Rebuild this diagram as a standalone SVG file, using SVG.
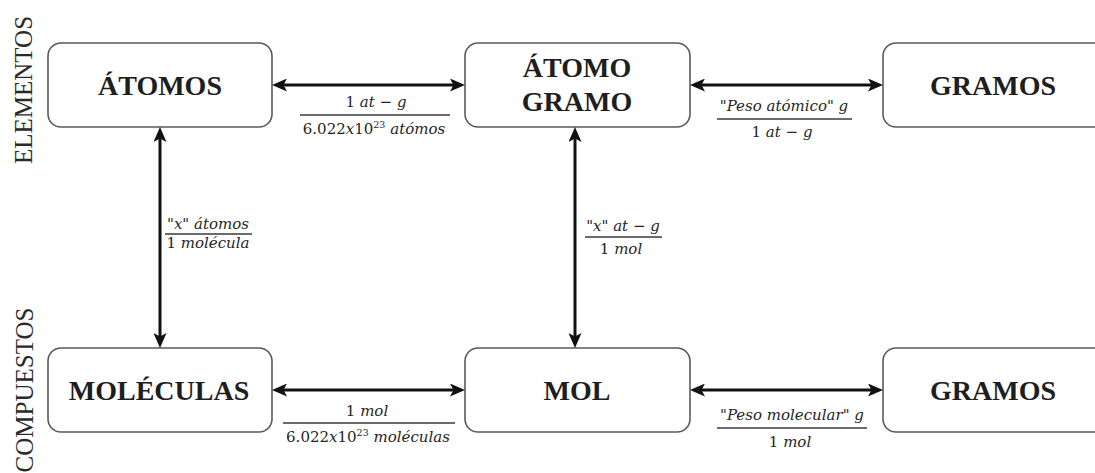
<svg xmlns="http://www.w3.org/2000/svg" width="1095" height="473" viewBox="0 0 1095 473">
  <style>
    .box { fill: #ffffff; stroke: #5a5a5a; stroke-width: 1.6; }
    .title { font-family: "Liberation Serif", "Times New Roman", serif; font-weight: bold; font-size: 28px; fill: #1e1e1e; text-anchor: middle; }
    .side { font-family: "Liberation Serif", "Times New Roman", serif; font-size: 25px; fill: #2a2a2a; text-anchor: middle; }
    .arrow { stroke: #111111; stroke-width: 3; fill: none; marker-start: url(#head); marker-end: url(#head); }
    .frac { font-family: "DejaVu Serif", "Liberation Serif", serif; font-size: 15px; fill: #262626; text-anchor: middle; }
    .it { font-style: italic; }
    .bar { stroke: #3a3a3a; stroke-width: 1.4; }
  </style>
  <defs>
    <marker id="head" viewBox="0 0 15 13" markerWidth="15" markerHeight="13" refX="6" refY="6.5" orient="auto-start-reverse" markerUnits="userSpaceOnUse">
      <path d="M0,0 L15,6.5 L0,13 L3.5,6.5 z" fill="#111111"/>
    </marker>
  </defs>

  <!-- row labels -->
  <text class="side" transform="translate(32,90) rotate(-90)">ELEMENTOS</text>
  <text class="side" transform="translate(33,390) rotate(-90)">COMPUESTOS</text>

  <!-- elements row -->
  <g id="atomos">
    <rect class="box" x="48" y="43" width="224" height="84" rx="13"/>
    <text class="title" x="160" y="95">ÁTOMOS</text>
  </g>
  <g id="atomo-gramo">
    <rect class="box" x="465" y="43" width="225" height="84" rx="13"/>
    <text class="title" x="577" y="77">ÁTOMO</text>
    <text class="title" x="577" y="111">GRAMO</text>
  </g>
  <g id="gramos-elementos">
    <rect class="box" x="883" y="43" width="226" height="84" rx="13"/>
    <text class="title" x="993" y="95">GRAMOS</text>
  </g>

  <!-- compounds row -->
  <g id="moleculas">
    <rect class="box" x="48" y="348" width="224" height="84" rx="13"/>
    <text class="title" x="159" y="400">MOLÉCULAS</text>
  </g>
  <g id="mol">
    <rect class="box" x="465" y="348" width="225" height="84" rx="13"/>
    <text class="title" x="577" y="400">MOL</text>
  </g>
  <g id="gramos-compuestos">
    <rect class="box" x="883" y="348" width="226" height="84" rx="13"/>
    <text class="title" x="993" y="400">GRAMOS</text>
  </g>

  <!-- connectors with conversion factors -->
  <g id="connectors">
    <line class="arrow" x1="281" y1="85" x2="456" y2="85"/>
    <line class="arrow" x1="699" y1="85" x2="874" y2="85"/>
    <line class="arrow" x1="281" y1="390" x2="456" y2="390"/>
    <line class="arrow" x1="699" y1="390" x2="874" y2="390"/>
    <line class="arrow" x1="160" y1="136" x2="160" y2="339"/>
    <line class="arrow" x1="575" y1="136" x2="575" y2="339"/>

    <!-- atoms to gram-atom -->
    <text class="frac" x="376" y="107">1 <tspan class="it">at</tspan> − <tspan class="it">g</tspan></text>
    <line class="bar" x1="300" y1="115" x2="450" y2="115"/>
    <text class="frac" x="374" y="134">6.022<tspan class="it">x</tspan>10<tspan font-size="9.5" dy="-6">23</tspan><tspan dy="6"> </tspan><tspan class="it">atómos</tspan></text>

    <!-- gram-atom to grams -->
    <text class="frac" x="784" y="111">"<tspan class="it">Peso atómico</tspan>" <tspan class="it">g</tspan></text>
    <line class="bar" x1="717" y1="119" x2="852" y2="119"/>
    <text class="frac" x="782" y="137">1 <tspan class="it">at</tspan> − <tspan class="it">g</tspan></text>

    <!-- atoms to molecules -->
    <text class="frac" x="208" y="229">"<tspan class="it">x</tspan>" <tspan class="it">átomos</tspan></text>
    <line class="bar" x1="165" y1="234" x2="252" y2="234"/>
    <text class="frac" x="208" y="248">1 <tspan class="it">molécula</tspan></text>

    <!-- gram-atom to mol -->
    <text class="frac" x="623" y="231">"<tspan class="it">x</tspan>" <tspan class="it">at</tspan> − <tspan class="it">g</tspan></text>
    <line class="bar" x1="585" y1="237" x2="662" y2="237"/>
    <text class="frac" x="621" y="254">1 <tspan class="it">mol</tspan></text>

    <!-- molecules to mol -->
    <text class="frac" x="367" y="416">1 <tspan class="it">mol</tspan></text>
    <line class="bar" x1="283" y1="423" x2="455" y2="423"/>
    <text class="frac" x="368" y="442">6.022<tspan class="it">x</tspan>10<tspan font-size="9.5" dy="-6">23</tspan><tspan dy="6"> </tspan><tspan class="it">moléculas</tspan></text>

    <!-- mol to grams -->
    <text class="frac" x="792" y="420">"<tspan class="it">Peso molecular</tspan>" <tspan class="it">g</tspan></text>
    <line class="bar" x1="717" y1="428" x2="867" y2="428"/>
    <text class="frac" x="790" y="447">1 <tspan class="it">mol</tspan></text>
  </g>
</svg>
